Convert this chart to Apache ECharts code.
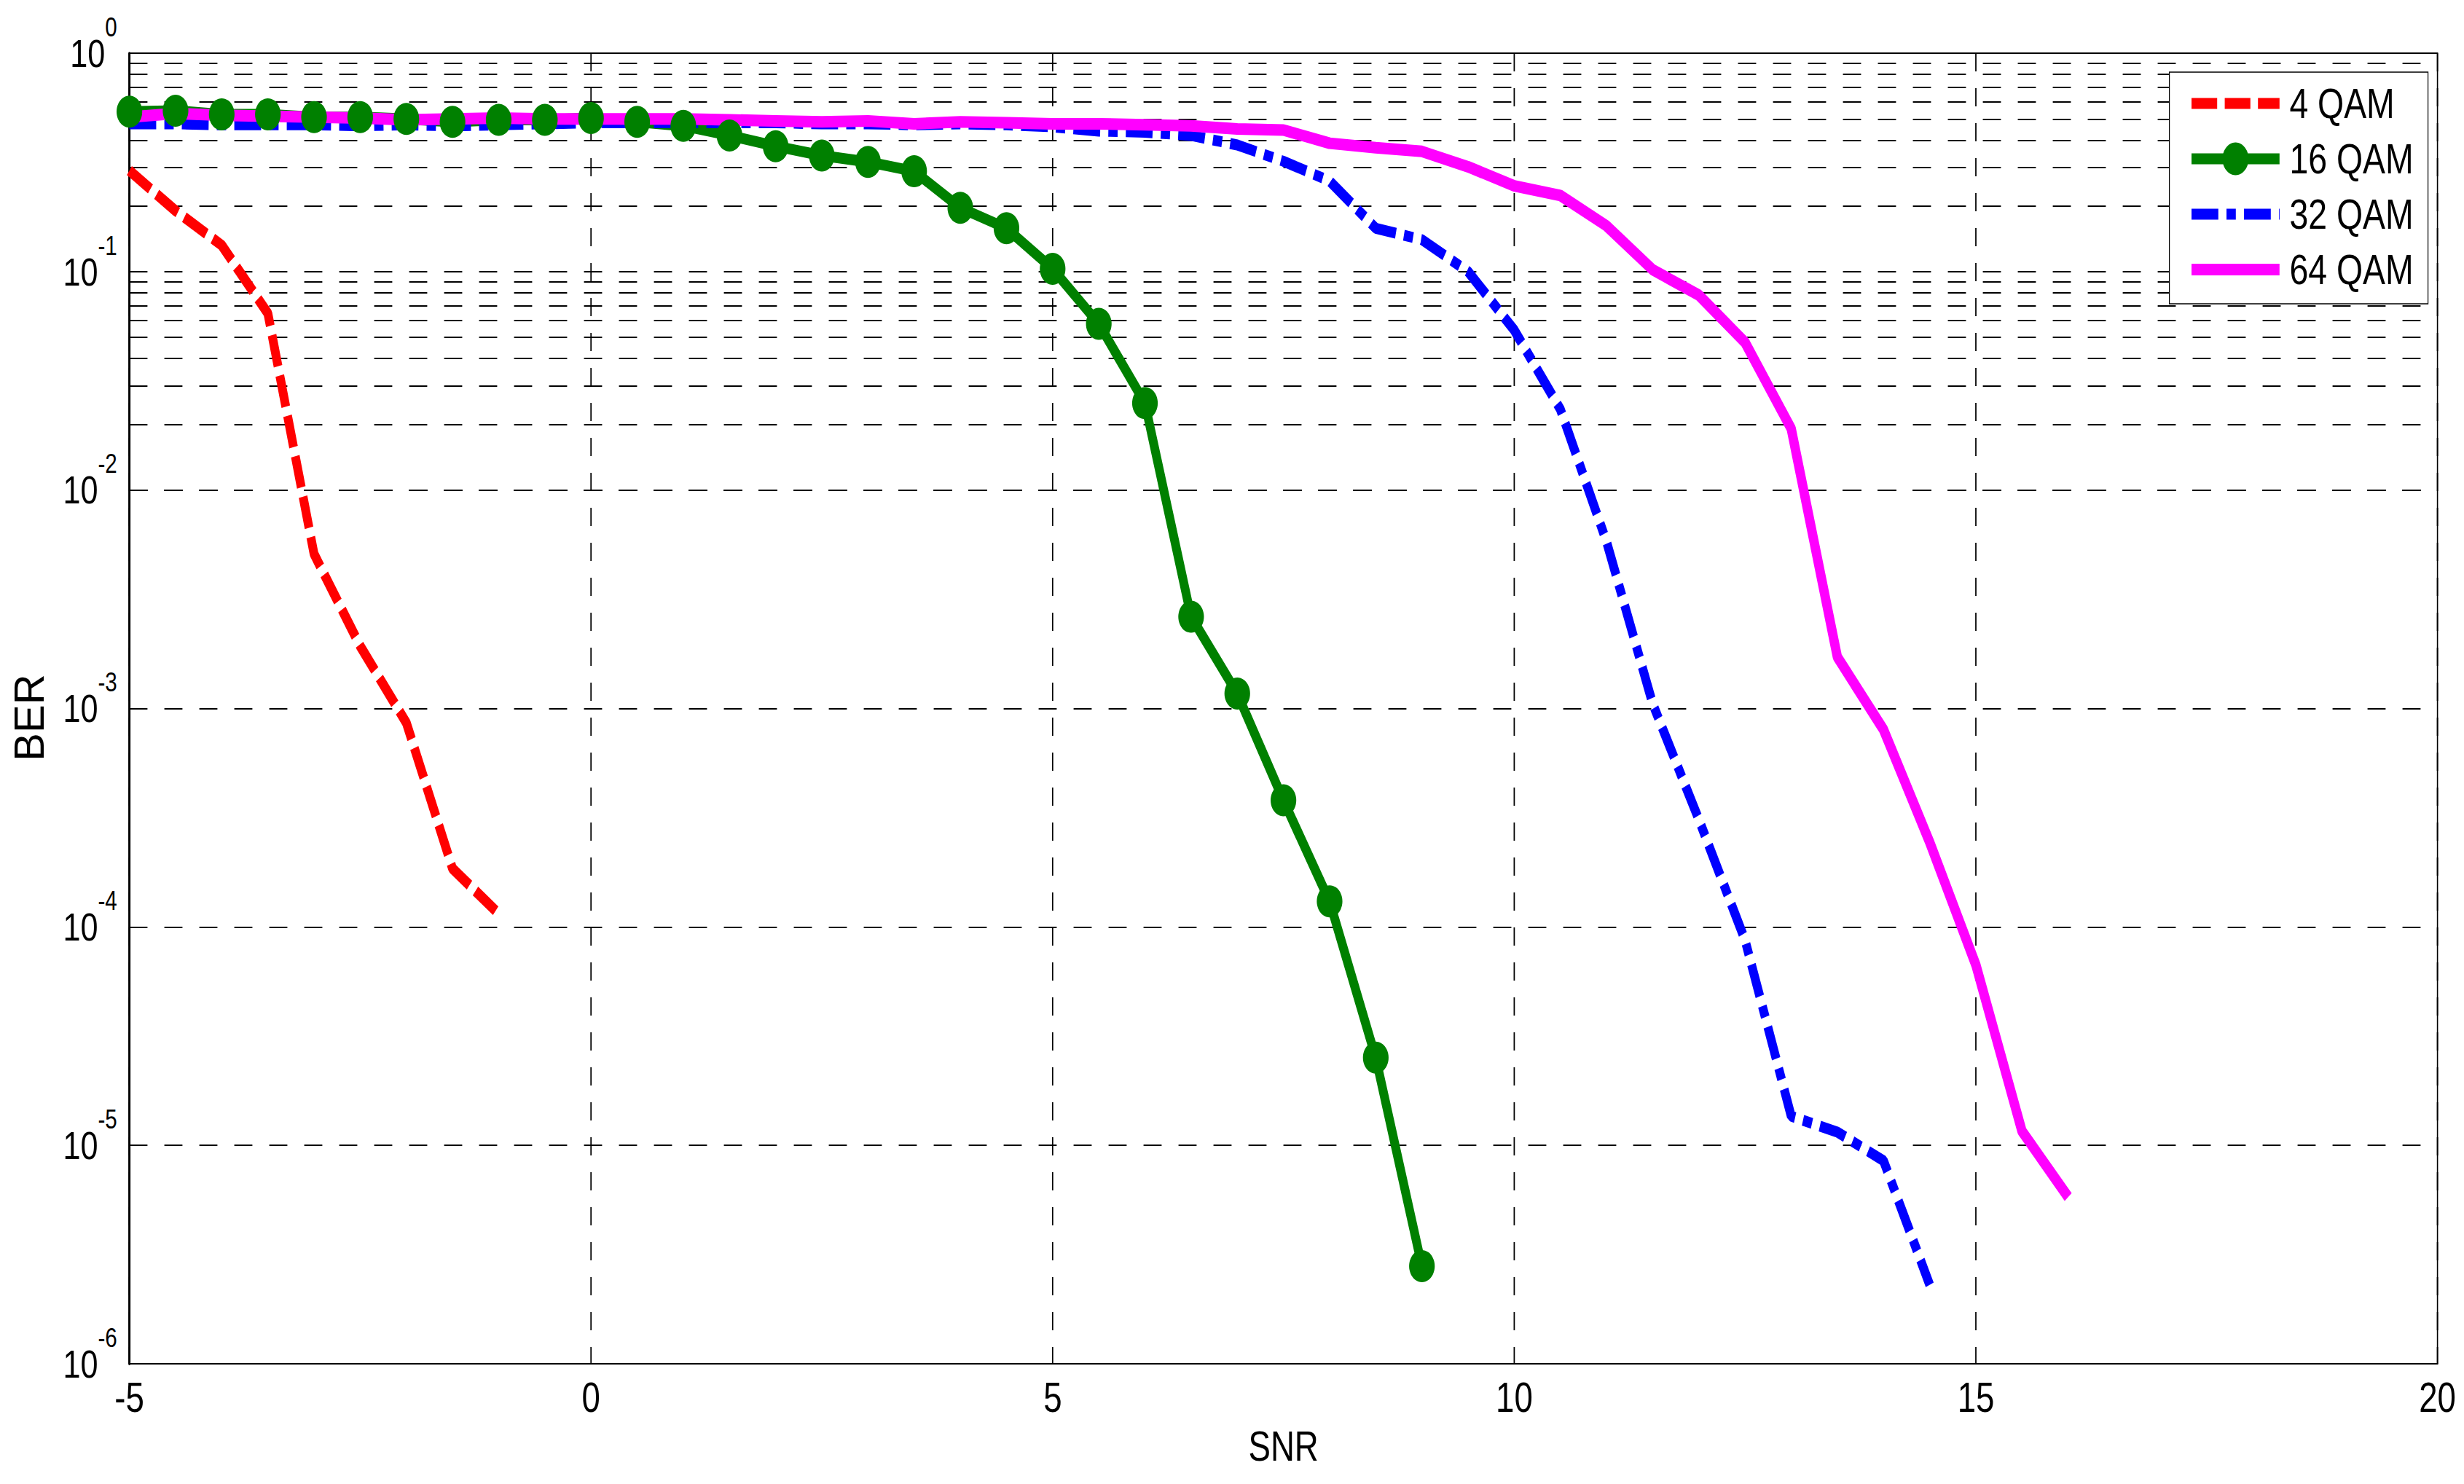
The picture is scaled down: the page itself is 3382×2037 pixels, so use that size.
<!DOCTYPE html>
<html>
<head>
<meta charset="utf-8">
<script src="https://cdn.jsdelivr.net/npm/echarts@6/dist/echarts.min.js"></script>
<style>
  html, body { margin: 0; padding: 0; background: #fff; overflow: hidden; }
  #wrap { width: 3382px; height: 2037px; overflow: hidden; }
  /* the source figure is squeezed horizontally, so the chart is drawn wider and scaled back */
  #chart { width: 4228px; height: 2037px; transform: scaleX(0.8); transform-origin: 0 0; }
</style>
</head>
<body>
<div id="wrap"><div id="chart"></div></div>
<script>
// SNR steps shared by all curves (each curve uses the first N of them)
const snr = [-5, -4.5, -4, -3.5, -3, -2.5, -2, -1.5, -1, -0.5, 0, 0.5, 1, 1.5, 2, 2.5, 3, 3.5, 4, 4.5,
    5, 5.5, 6, 6.5, 7, 7.5, 8, 8.5, 9, 9.5, 10, 10.5, 11, 11.5, 12, 12.5, 13, 13.5, 14, 14.5, 15, 15.5, 16];

const ber4qam = [0.29, 0.19, 0.132, 0.0644, 0.0051, 0.00193, 0.00086, 0.000185, 0.000115];

const ber16qam = [0.54, 0.545, 0.525, 0.525, 0.51, 0.51, 0.50, 0.485, 0.495, 0.495,
    0.505, 0.485, 0.465, 0.42, 0.375, 0.34, 0.318, 0.288, 0.196, 0.158,
    0.103, 0.0577, 0.025, 0.00263, 0.00117, 0.00038, 0.000131, 0.0000252, 0.0000028];

const ber32qam = [0.475, 0.475, 0.47, 0.47, 0.47, 0.465, 0.47, 0.465, 0.47, 0.475,
    0.48, 0.48, 0.48, 0.48, 0.48, 0.475, 0.475, 0.47, 0.475, 0.47,
    0.46, 0.44, 0.435, 0.42, 0.38, 0.32, 0.26, 0.158, 0.14, 0.1,
    0.054, 0.0234, 0.0058, 0.00105, 0.00031, 0.000087, 0.0000136, 0.0000115, 0.0000085, 0.0000023];

const ber64qam = [0.51, 0.53, 0.52, 0.515, 0.51, 0.505, 0.495, 0.5, 0.505, 0.5,
    0.5, 0.5, 0.5, 0.495, 0.49, 0.485, 0.49, 0.475, 0.485, 0.48,
    0.475, 0.475, 0.47, 0.465, 0.45, 0.445, 0.387, 0.369, 0.355, 0.302,
    0.247, 0.223, 0.162, 0.102, 0.078, 0.0474, 0.0191, 0.00172, 0.0008, 0.000244,
    0.000067, 0.0000116, 0.0000058];

const seriesNames = ['4 QAM', '16 QAM', '32 QAM', '64 QAM'];
const yTickExponents = ['0', '-1', '-2', '-3', '-4', '-5', '-6'];
const minorMultipliers = [2, 3, 4, 5, 6, 7, 8, 9];
const decades = [1e-6, 1e-5, 1e-4, 1e-3, 1e-2, 1e-1];

const FONT = '"Liberation Sans", Arial, Helvetica, sans-serif';
const H_DASH = [31, 29];   // horizontal grid dashes (before the 0.8 squeeze)
const V_DASH = [25, 23];   // vertical grid dashes

function pairs(ber) {
    return ber.map((v, i) => [snr[i], v]);
}

// minor log grid lines (2..9 x each decade)
const minorLines = [];
decades.forEach(d => {
    minorMultipliers.forEach(m => minorLines.push({ yAxis: m * d }));
});

const noMarker = { color: 'rgba(0,0,0,0)', opacity: 0 };

const chart = echarts.init(document.getElementById('chart'), null, { renderer: 'svg' });

chart.setOption({
    animation: false,
    backgroundColor: '#fff',
    grid: {
        left: 222, top: 73, right: 46, bottom: 165,
        show: true, borderColor: '#000', borderWidth: 2
    },
    legend: {
        data: [
            { name: seriesNames[0], itemStyle: noMarker },
            { name: seriesNames[1] },
            { name: seriesNames[2], itemStyle: noMarker },
            { name: seriesNames[3], itemStyle: noMarker }
        ],
        orient: 'vertical',
        left: 3722,
        top: 99,
        z: 10,
        padding: [14, 25, 18, 30],
        itemWidth: 151,
        itemHeight: 56,
        itemGap: 18,
        lineStyle: { width: 'inherit' },
        backgroundColor: '#fff',
        borderColor: '#000',
        borderWidth: 1.5,
        textStyle: {
            fontFamily: FONT, fontSize: 58, color: '#000',
            lineHeight: 58, padding: [0, 0, 0, 12]
        }
    },
    graphic: [{
        type: 'text',
        x: 49,
        y: 985,
        rotation: Math.PI / 2,
        scaleY: 1.25,
        style: {
            text: 'BER',
            font: '58px "Liberation Sans", Arial, sans-serif',
            fill: '#000',
            align: 'center',
            verticalAlign: 'middle'
        }
    }],
    xAxis: {
        type: 'value',
        min: -5, max: 20, interval: 5,
        name: 'SNR',
        nameLocation: 'middle',
        nameGap: 85,
        nameTextStyle: { fontFamily: FONT, fontSize: 57, color: '#000' },
        axisLine: { show: true, onZero: false, lineStyle: { color: '#000', width: 2 } },
        axisTick: { show: false },
        axisLabel: { fontFamily: FONT, fontSize: 57, color: '#000', margin: 18 },
        splitLine: { show: true, lineStyle: { color: '#000', width: 2.2, type: V_DASH } }
    },
    yAxis: {
        type: 'log',
        logBase: 10,
        min: 1e-6, max: 1,
        splitNumber: 6,
        axisLine: { show: true, onZero: false, lineStyle: { color: '#000', width: 3.75 } },
        axisTick: { show: false },
        axisLabel: {
            margin: 21,
            fontFamily: FONT,
            fontSize: 54,
            color: '#000',
            formatter: value => {
                const exp = yTickExponents[Math.round(-Math.log10(value))];
                return '{b|10}{s|' + exp + '}';
            },
            rich: {
                b: { fontFamily: FONT, fontSize: 54, color: '#000', verticalAlign: 'middle' },
                s: { fontFamily: FONT, fontSize: 37, color: '#000', verticalAlign: 'middle', padding: [0, 0, 72, 0] }
            }
        },
        splitLine: { show: true, lineStyle: { color: '#000', width: 2, type: H_DASH } }
    },
    series: [
        {
            name: 'grid',
            type: 'line',
            data: [],
            z: 1,
            markLine: {
                z: 1,
                silent: true,
                symbol: ['none', 'none'],
                label: { show: false },
                lineStyle: { color: '#000', width: 2, type: H_DASH },
                data: minorLines
            }
        },
        {
            name: seriesNames[0],
            type: 'line',
            data: pairs(ber4qam),
            symbol: 'none',
            lineStyle: { color: '#ff0000', width: 15, type: [44, 13] },
            itemStyle: { color: '#ff0000' }
        },
        {
            name: seriesNames[1],
            type: 'line',
            data: pairs(ber16qam),
            symbol: 'circle',
            symbolSize: 44,
            lineStyle: { color: '#008000', width: 15 },
            itemStyle: { color: '#008000' }
        },
        {
            name: seriesNames[2],
            type: 'line',
            data: pairs(ber32qam),
            symbol: 'none',
            lineStyle: { color: '#0000ff', width: 15, type: [46, 14, 16, 14] },
            itemStyle: { color: '#0000ff' }
        },
        {
            name: seriesNames[3],
            type: 'line',
            data: pairs(ber64qam),
            symbol: 'none',
            lineStyle: { color: '#ff00ff', width: 16 },
            itemStyle: { color: '#ff00ff' }
        }
    ]
});
</script>
</body>
</html>
